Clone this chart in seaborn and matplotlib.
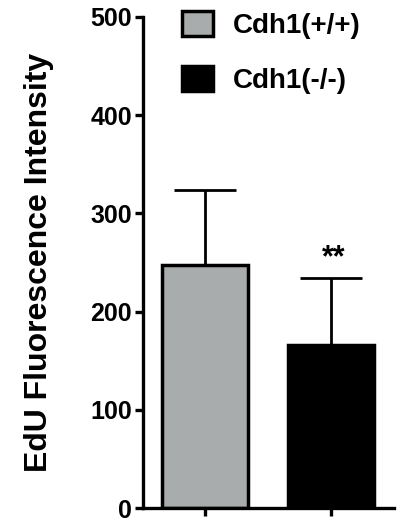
import matplotlib
matplotlib.use("Agg")
import matplotlib.pyplot as plt
import seaborn as sns
import pandas as pd
from matplotlib.patches import Patch

groups = ["Cdh1(+/+)", "Cdh1(-/-)"]
means = [247, 166]
sds = [77, 68]
colors = ["#a9acac", "#000000"]
yticks = [0, 100, 200, 300, 400, 500]

sns.set_theme(style="ticks")
plt.rcParams['font.family'] = ['Liberation Sans', 'DejaVu Sans']
plt.rcParams['font.weight'] = 'bold'
for k in ["text.color", "axes.labelcolor", "xtick.color", "ytick.color", "axes.edgecolor"]:
    plt.rcParams[k] = "black"

df = pd.DataFrame({"group": groups, "value": means})

fig = plt.figure(figsize=(3.97, 5.22), dpi=100)
ax = fig.add_axes([143/397, 14/522, (394-143)/397, (508-17)/522])

sns.barplot(data=df, x="group", y="value", hue="group", palette=colors,
            order=groups, hue_order=groups, width=0.68, dodge=False,
            edgecolor="black", linewidth=2.5, legend=False, ax=ax, errorbar=None)

ax.errorbar(range(len(groups)), means, yerr=[[0]*len(sds), sds], fmt="none",
            ecolor="black", elinewidth=2.0, capsize=22, capthick=2.0, zorder=1)

ax.text(1.02, means[1] + sds[1] + 5, "**", ha="center", va="bottom",
        fontsize=22, fontweight="bold")

ax.set_ylim(0, 500)
ax.set_xlim(-0.49, 1.5)
ax.set_yticks(yticks)
ax.set_yticklabels([str(t) for t in yticks], fontsize=18, fontweight="bold")
ax.set_xticks(range(len(groups)))
ax.set_xticklabels([])
ax.set_xlabel("")
ax.set_ylabel("EdU Fluorescence Intensity", fontsize=23, fontweight="bold", labelpad=26)
sns.despine(ax=ax)
for s in ["left", "bottom"]:
    ax.spines[s].set_linewidth(2.4)
ax.tick_params(axis="both", width=2.4, length=6, pad=2, colors="black")

handles = [Patch(facecolor=c, edgecolor="black", linewidth=2.5) for c in colors]
leg = fig.legend(handles, groups, loc="upper left", bbox_to_anchor=(182/397, 1 - 11/522),
                 frameon=False, fontsize=20,
                 handlelength=1.1, handleheight=1.0, labelspacing=0.98, handletextpad=0.72,
                 borderaxespad=0, borderpad=0)
for t in leg.get_texts():
    t.set_fontweight("bold")
    t.set_fontsize(20)

fig.savefig("out.png", dpi=100)
